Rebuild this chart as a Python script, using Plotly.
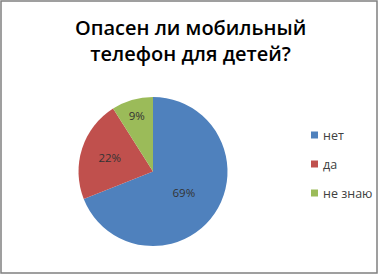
import plotly.graph_objects as go

labels = ["нет", "да", "не знаю"]
values = [69, 22, 9]
colors = ["#4F81BD", "#C0504D", "#9BBB59"]
title_lines = ["Опасен ли мобильный", "телефон для детей?"]

W, H = 379, 274

fig = go.Figure()
fig.add_trace(go.Pie(
    labels=labels, values=values, sort=False, direction="clockwise", rotation=0,
    marker=dict(colors=colors, line=dict(width=0)),
    textinfo="percent", textposition="inside", insidetextorientation="horizontal",
    textfont=dict(family="Open Sans", size=11.5, color="#333333"),
    domain=dict(x=[78.5 / W, 227.5 / W], y=[1 - 246 / H, 1 - 97 / H]),
    showlegend=False, hoverinfo="label+percent",
))

shapes = [dict(type="rect", xref="paper", yref="paper",
               x0=1 / W, x1=377 / W, y0=1 - 273 / H, y1=1 - 1 / H,
               line=dict(color="#808080", width=1.5))]
annotations = [dict(text="<br>".join(title_lines), x=190 / W, y=1 - 41 / H,
                    xref="paper", yref="paper", showarrow=False,
                    xanchor="center", yanchor="middle",
                    font=dict(family="Open Sans", size=20, color="#000000", weight=600))]

leg_y0 = 135
for i, (lab, col) in enumerate(zip(labels, colors)):
    yc = leg_y0 + i * 29
    shapes.append(dict(type="rect", xref="paper", yref="paper",
                       x0=311 / W, x1=318 / W, y0=1 - (yc + 3.5) / H, y1=1 - (yc - 3.5) / H,
                       fillcolor=col, line=dict(width=0)))
    annotations.append(dict(text=lab, x=321 / W, y=1 - yc / H, xref="paper", yref="paper",
                            showarrow=False, xanchor="left", yanchor="middle",
                            font=dict(family="Open Sans", size=12.5, color="#404040")))

fig.update_layout(width=W, height=H, margin=dict(l=0, r=0, t=0, b=0),
                  paper_bgcolor="white", plot_bgcolor="white",
                  shapes=shapes, annotations=annotations)
fig.write_html("out.html")
